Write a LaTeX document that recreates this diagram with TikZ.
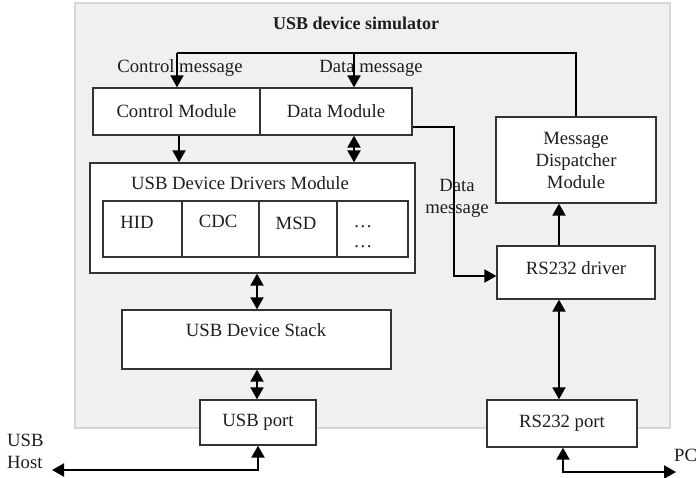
\documentclass[tikz,border=0pt]{standalone}
\usepackage{fontspec}
\setmainfont{Liberation Serif}
\usetikzlibrary{arrows.meta}
\definecolor{bgfill}{HTML}{F0F0F0}
\definecolor{bgline}{HTML}{D6D6D6}
\definecolor{boxline}{HTML}{333333}
\definecolor{txtc}{HTML}{1E1E1E}
\begin{document}
\begin{tikzpicture}[x=1bp,y=-1bp,
  font=\fontsize{18.7bp}{22bp}\selectfont,
  box/.style={draw=boxline,fill=white,line width=1.3bp,inner sep=0pt,text=txtc},
  txt/.style={inner sep=0pt,text=txtc,align=center},
  conn/.style={draw=black,line width=2bp},
  tip/.style={-{Triangle[length=12bp,width=13bp]}},
  tips/.style={{Triangle[length=12bp,width=13bp]}-{Triangle[length=12bp,width=13bp]}}]
\useasboundingbox (0,0) rectangle (696,478);
% background
\draw[fill=bgfill,draw=bgline,line width=1.3bp] (75,3) rectangle (670,428);
\node[txt,font=\fontsize{18bp}{22bp}\selectfont\bfseries] (title) at (356,23) {USB device simulator};

% boxes
\node[box,minimum width=167bp,minimum height=47bp] (ctrl) at (176.5,111.5) {Control Module};
\node[box,minimum width=152bp,minimum height=47bp] (data) at (336,111.5) {Data Module};
\node[box,minimum width=160bp,minimum height=86bp] (disp) at (576,160) {};
\node[txt,align=center,font=\fontsize{18.7bp}{22bp}\selectfont] (dispT) at (576,160) {Message\\Dispatcher\\Module};
\node[box,minimum width=325bp,minimum height=110bp] (drv) at (252.5,218) {};
\node[txt] (drvT) at (240,183) {USB Device Drivers Module};
\node[box,minimum width=79bp,minimum height=56bp] (hid) at (142.5,229) {};
\node[box,minimum width=77bp,minimum height=56bp] (cdc) at (220.5,229) {};
\node[box,minimum width=78bp,minimum height=56bp] (msd) at (298,229) {};
\node[box,minimum width=71bp,minimum height=56bp] (oth) at (372.5,229) {};
\node[txt] (hidT) at (137,222) {HID};
\node[txt] (cdcT) at (218,221) {CDC};
\node[txt] (msdT) at (296,223) {MSD};
\node[txt] (othA) at (363,227) {\ldots};
\node[txt] (othB) at (363,247) {\ldots};
\node[box,minimum width=158bp,minimum height=53bp] (rsd) at (576,272.5) {};
\node[txt] (rsdT) at (576,268) {RS232 driver};
\node[box,minimum width=269bp,minimum height=59bp] (stack) at (256.5,339.5) {};
\node[txt] (stackT) at (256,330) {USB Device Stack};
\node[box,minimum width=116bp,minimum height=45bp] (usbp) at (258,422.5) {USB port};
\node[box,minimum width=150bp,minimum height=47bp] (rsp) at (562,423.5) {RS232 port};

% labels
\node[txt] (cmsg) at (180,68) {Control message};
\node[txt] (dmsg) at (371,68) {Data message};
\node[txt] (dmsg2) at (457,198) {Data\\message};
\node[txt,align=left,anchor=west] (host) at (7,451) {USB\\Host};
\node[txt,anchor=west] (pc) at (674,455) {PC};

% coordinates
\coordinate (tl) at (177,53);
\coordinate (tm) at (354,53);
\coordinate (cA) at (179,0);
\coordinate (cB) at (354,0);
\coordinate (dA) at (454,127);
\coordinate (dB) at (454,276);
\coordinate (xr) at (559,0);
\coordinate (xu) at (257,0);
\coordinate (hA) at (258,470);
\coordinate (hB) at (52,470);
\coordinate (pA) at (563,472);
\coordinate (pB) at (676,472);

% connectors
\draw[conn] (disp.north) |- (tl);
\draw[conn,tip] (tl) -- (ctrl.north -| tl);
\draw[conn,tip] (tm) -- (data.north -| tm);
\draw[conn,tip] (ctrl.south -| cA) -- (drv.north -| cA);
\draw[conn,tips] (data.south -| cB) -- (drv.north -| cB);
\draw[conn,tip] (data.east |- dA) -- (dA) -- (dB) -- (rsd.west |- dB);
\draw[conn,tip] (rsd.north -| xr) -- (disp.south -| xr);
\draw[conn,tips] (rsd.south -| xr) -- (rsp.north -| xr);
\draw[conn,tips] (drv.south -| xu) -- (stack.north -| xu);
\draw[conn,tips] (stack.south -| xu) -- (usbp.north -| xu);
\draw[conn,tips] (usbp.south -| hA) -- (hA) -- (hB);
\draw[conn,tips] (rsp.south -| pA) -- (pA) -- (pB);
\end{tikzpicture}
\end{document}
